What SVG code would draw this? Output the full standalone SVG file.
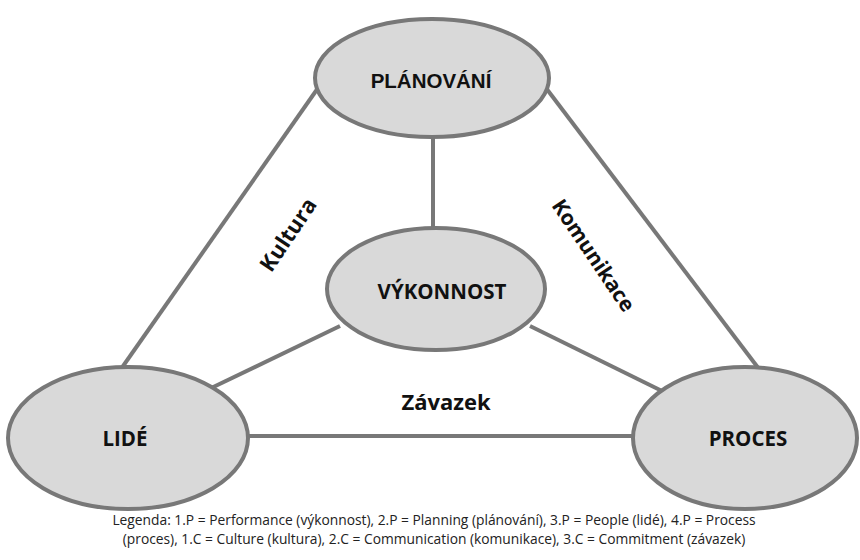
<svg xmlns="http://www.w3.org/2000/svg" width="860" height="560" viewBox="0 0 860 560">
  <style>
    .edge { stroke: #787878; stroke-width: 4; fill: none; }
    .node ellipse { fill: #d9d9d9; stroke: #787878; stroke-width: 4; }
    .node text { font-family: "Open Sans", "Liberation Sans", sans-serif; font-weight: bold; font-size: 20.5px; fill: #111; text-anchor: middle; dominant-baseline: central; }
    .node text.arial { font-family: "Liberation Sans", Arial, sans-serif; }
    .lbl { font-family: "Open Sans", "Liberation Sans", sans-serif; font-weight: bold; font-size: 22px; fill: #111; text-anchor: middle; dominant-baseline: central; }
    .legend { font-family: "Open Sans", "Liberation Sans", sans-serif; font-size: 13.8px; fill: #222; text-anchor: middle; }
  </style>
  <rect width="860" height="560" fill="#fff"/>
  <g id="connectors">
    <line class="edge" x1="318" y1="88" x2="121" y2="369"/>
    <line class="edge" x1="546" y1="88" x2="759" y2="369"/>
    <line class="edge" x1="246" y1="436" x2="634" y2="436"/>
    <line class="edge" x1="433" y1="134" x2="433" y2="230"/>
    <line class="edge" x1="340" y1="326" x2="205" y2="391"/>
    <line class="edge" x1="530" y1="326" x2="662" y2="391"/>
  </g>
  <g id="planovani" class="node">
    <ellipse cx="432" cy="78" rx="117" ry="59"/>
    <text class="arial" x="431" y="80">PLÁNOVÁNÍ</text>
  </g>
  <g id="vykonnost" class="node">
    <ellipse cx="436" cy="289" rx="109" ry="61"/>
    <text x="442" y="291">VÝKONNOST</text>
  </g>
  <g id="lide" class="node">
    <ellipse cx="128" cy="438" rx="120" ry="71"/>
    <text x="125" y="438">LIDÉ</text>
  </g>
  <g id="proces" class="node">
    <ellipse cx="745" cy="438" rx="112" ry="71"/>
    <text x="748" y="438">PROCES</text>
  </g>
  <g id="labels">
    <text class="lbl" transform="translate(287,234) rotate(-56)">Kultura</text>
    <text class="lbl" style="font-size:21px" transform="translate(594,255) rotate(56)">Komunikace</text>
    <text class="lbl" x="446" y="401">Závazek</text>
  </g>
  <g id="legend">
    <text class="legend" x="434" y="525">Legenda: 1.P = Performance (výkonnost), 2.P = Planning (plánování), 3.P = People (lidé), 4.P = Process</text>
    <text class="legend" x="434" y="544">(proces), 1.C = Culture (kultura), 2.C = Communication (komunikace), 3.C = Commitment (závazek)</text>
  </g>
</svg>
